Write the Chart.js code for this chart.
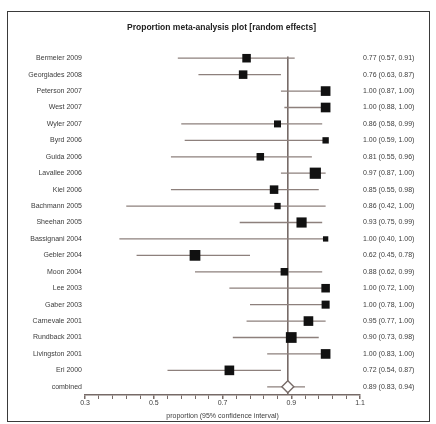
<!DOCTYPE html>
<html>
<head>
<meta charset="utf-8">
<script src="https://cdn.jsdelivr.net/npm/chart.js@4.4.0/dist/chart.umd.min.js"></script>
<style>
    html, body { margin: 0; padding: 0; background: #fff; }
    #wrap { position: relative; width: 436px; height: 424px; overflow: hidden; }
    #frame { position: absolute; left: 7px; top: 11px; width: 423px; height: 411px; border: 1.5px solid #3a3a3a; box-sizing: border-box; }
    canvas { position: absolute; left: 0; top: 0; }
</style>
</head>
<body>
<div id="wrap">
    <div id="frame"></div>
    <canvas id="forestChart" width="436" height="424"></canvas>
</div>
<script>
// study rows, top to bottom
const studies = [
    'Bermeier 2009', 'Georgiades 2008', 'Peterson 2007', 'West 2007', 'Wyler 2007',
    'Byrd 2006', 'Guida 2006', 'Lavallee 2006', 'Kiel 2006', 'Bachmann 2005',
    'Sheehan 2005', 'Bassignani 2004', 'Gebler 2004', 'Moon 2004', 'Lee 2003',
    'Gaber 2003', 'Carnevale 2001', 'Rundback 2001', 'Livingston 2001', 'Eri 2000'
];
const proportions = [0.77, 0.76, 1.00, 1.00, 0.86, 1.00, 0.81, 0.97, 0.85, 0.86,
                     0.93, 1.00, 0.62, 0.88, 1.00, 1.00, 0.95, 0.90, 1.00, 0.72];
const lowerCI     = [0.57, 0.63, 0.87, 0.88, 0.58, 0.59, 0.55, 0.87, 0.55, 0.42,
                     0.75, 0.40, 0.45, 0.62, 0.72, 0.78, 0.77, 0.73, 0.83, 0.54];
const upperCI     = [0.91, 0.87, 1.00, 1.00, 0.99, 1.00, 0.96, 1.00, 0.98, 1.00,
                     0.99, 1.00, 0.78, 0.99, 1.00, 1.00, 1.00, 0.98, 1.00, 0.87];
// relative study weights (%), drive the box size
const weights     = [3.6, 3.6, 4.6, 4.6, 2.4, 2.0, 2.8, 6.2, 3.6, 2.0,
                     5.1, 1.4, 5.7, 2.8, 3.6, 3.2, 4.6, 5.7, 4.6, 4.6];

const pooledLabel = 'combined';
const pooled = 0.89;
const pooledLower = 0.83;
const pooledUpper = 0.94;

const xMajorTicks = [0.3, 0.5, 0.7, 0.9, 1.1];
const minorPerMajor = 4;

const title = 'Proportion meta-analysis plot [random effects]';
const xTitle = 'proportion (95% confidence interval)';

const rowLabels = [...studies, pooledLabel];
const fmt = v => v.toFixed(2);
const ciLabels = proportions.map((p, i) => `${fmt(p)} (${fmt(lowerCI[i])}, ${fmt(upperCI[i])})`)
    .concat(`${fmt(pooled)} (${fmt(pooledLower)}, ${fmt(pooledUpper)})`);

// all x tick positions (majors plus minors between them)
const xTicks = [];
xMajorTicks.forEach((v, i) => {
    xTicks.push({ value: v });
    if (i < xMajorTicks.length - 1) {
        const step = (xMajorTicks[i + 1] - v) / (minorPerMajor + 1);
        for (let k = 1; k <= minorPerMajor; k++) xTicks.push({ value: v + step * k });
    }
});

const lineColor = '#8d807c';
const axisColor = '#766a67';
const textColor = '#3c3c3c';
const font = { family: 'Liberation Sans, Arial, sans-serif', size: 7 };

const datasets = [];

// confidence interval whiskers
studies.forEach((s, i) => {
    datasets.push({
        type: 'line',
        label: s,
        data: [{ x: lowerCI[i], y: i + 1 }, { x: upperCI[i], y: i + 1 }],
        borderColor: lineColor,
        borderWidth: 1.3,
        pointRadius: 0,
        clip: false,
        order: 3
    });
});

// pooled CI line
datasets.push({
    type: 'line',
    label: 'pooled CI',
    data: [{ x: pooledLower, y: rowLabels.length }, { x: pooledUpper, y: rowLabels.length }],
    borderColor: lineColor,
    borderWidth: 1.3,
    pointRadius: 0,
    clip: false,
    order: 3
});

// vertical line at pooled estimate
datasets.push({
    type: 'line',
    label: 'pooled estimate',
    data: [{ x: pooled, y: 0.9 }, { x: pooled, y: rowLabels.length + 0.5 }],
    borderColor: axisColor,
    borderWidth: 1.6,
    pointRadius: 0,
    clip: false,
    order: 4
});

// study boxes, side grows with sqrt(weight)
datasets.push({
    type: 'scatter',
    label: 'studies',
    data: proportions.map((p, i) => ({ x: p, y: i + 1 })),
    pointStyle: 'rect',
    pointRadius: proportions.map((p, i) => 4.5 * Math.sqrt(weights[i]) / Math.SQRT2),
    backgroundColor: '#111',
    borderColor: '#111',
    borderWidth: 0,
    clip: false,
    order: 1
});

// pooled diamond
datasets.push({
    type: 'scatter',
    label: 'pooled',
    data: [{ x: pooled, y: rowLabels.length }],
    pointStyle: 'rectRot',
    pointRadius: 6,
    backgroundColor: '#fff',
    borderColor: axisColor,
    borderWidth: 1.4,
    clip: false,
    order: 2
});

const rowAxis = (position, labels) => ({
    type: 'linear',
    position: position,
    min: 0.5,
    max: rowLabels.length + 0.5,
    reverse: true,
    grid: { display: false, drawTicks: false },
    border: { display: false },
    afterBuildTicks: scale => { scale.ticks = rowLabels.map((_, i) => ({ value: i + 1 })); },
    afterFit: scale => { scale.width = position === 'left' ? 78 : 76; },
    ticks: {
        autoSkip: false,
        padding: 3,
        color: textColor,
        font: font,
        callback: (value) => labels[value - 1] || ''
    }
});

new Chart(document.getElementById('forestChart'), {
    type: 'scatter',
    data: { datasets: datasets },
    options: {
        responsive: false,
        animation: false,
        layout: { padding: { left: 7, right: 0, top: 12, bottom: 0 } },
        plugins: {
            legend: { display: false },
            tooltip: { enabled: false },
            title: {
                display: true,
                text: title,
                color: '#222',
                font: { family: 'Liberation Sans, Arial, sans-serif', size: 8.5 },
                padding: { top: 11, bottom: 16.8 }
            }
        },
        scales: {
            x: {
                type: 'linear',
                min: xMajorTicks[0],
                max: xMajorTicks[xMajorTicks.length - 1],
                afterBuildTicks: scale => { scale.ticks = xTicks.map(t => ({ value: t.value })); },
                afterFit: scale => { scale.height = 29; },
                grid: {
                    drawOnChartArea: false,
                    drawTicks: true,
                    tickLength: 4,
                    color: axisColor,
                    lineWidth: ctx => (ctx.index % (minorPerMajor + 1) === 0 ? 1.5 : 1)
                },
                border: { display: true, color: axisColor, width: 1.5 },
                ticks: {
                    autoSkip: false,
                    maxRotation: 0,
                    padding: 0,
                    color: textColor,
                    font: font,
                    callback: (value, index) => (index % (minorPerMajor + 1) === 0 ? value.toFixed(1) : '')
                },
                title: {
                    display: true,
                    text: xTitle,
                    color: textColor,
                    font: font,
                    padding: { top: 2, bottom: 4 }
                }
            },
            y: rowAxis('left', rowLabels),
            y2: rowAxis('right', ciLabels)
        }
    }
});
</script>
</body>
</html>
